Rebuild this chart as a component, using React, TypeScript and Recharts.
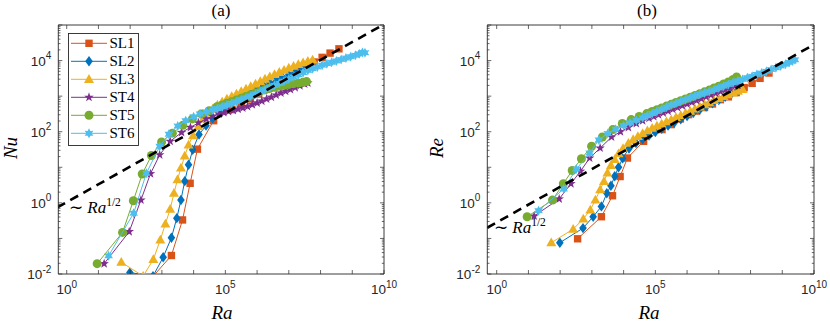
import React from 'react';
import { ScatterChart, Scatter, XAxis, YAxis, ReferenceArea } from 'recharts';

// All values are log10. Ra is shared by both panels.
const sl1Ra = [2.55, 3.30, 3.65, 3.89, 4.12, 4.63, 5.21, 5.50, 5.79, 6.05, 6.30, 6.55, 6.80, 7.05, 7.30, 7.55, 7.80, 8.05, 8.30, 8.58];
const sl1Nu = [-2.24, -1.48, -0.48, 0.55, 1.51, 2.31, 2.62, 2.77, 2.92, 3.06, 3.19, 3.32, 3.45, 3.58, 3.70, 3.82, 3.96, 4.09, 4.21, 4.33];
const sl1Re = [-1.01, -0.39, 0.20, 0.74, 1.26, 1.73, 2.06, 2.20, 2.36, 2.48, 2.58, 2.68, 2.78, 2.90, 2.98, 3.10, 3.24, 3.36, 3.50, 3.65];

const sl2Ra = [1.99, 2.72, 3.04, 3.30, 3.47, 3.60, 3.72, 3.84, 3.97, 4.17, 4.39, 4.60, 4.80, 5.00, 5.20, 5.40, 5.60, 5.80, 6.00, 6.20, 6.40, 6.60, 6.80, 7.00, 7.20, 7.40, 7.60];
const sl2Nu = [-1.96, -2.06, -1.53, -0.98, -0.43, 0.08, 0.61, 1.07, 1.49, 1.92, 2.17, 2.38, 2.54, 2.69, 2.82, 2.93, 3.03, 3.13, 3.22, 3.30, 3.38, 3.46, 3.53, 3.60, 3.67, 3.74, 3.81];
const sl2Re = [-1.12, -0.71, -0.39, -0.10, 0.27, 0.48, 0.75, 1.00, 1.25, 1.53, 1.68, 1.79, 1.89, 1.99, 2.08, 2.17, 2.26, 2.35, 2.44, 2.53, 2.62, 2.71, 2.80, 2.89, 2.98, 3.07, 3.16];

const sl3Ra = [1.72, 2.41, 2.73, 2.95, 3.11, 3.26, 3.38, 3.49, 3.60, 3.72, 3.84, 3.98, 4.15, 4.30, 4.45, 4.60, 4.75, 4.90, 5.05, 5.20, 5.35, 5.50, 5.65, 5.80, 5.95, 6.10, 6.25, 6.40, 6.55, 6.70, 6.85, 7.00, 7.15, 7.30, 7.45, 7.60, 7.75];
const sl3Nu = [-1.67, -2.06, -1.59, -1.04, -0.59, -0.18, 0.27, 0.65, 0.98, 1.32, 1.63, 1.89, 2.15, 2.36, 2.52, 2.64, 2.75, 2.84, 2.92, 2.99, 3.06, 3.13, 3.20, 3.27, 3.34, 3.41, 3.48, 3.55, 3.61, 3.67, 3.73, 3.79, 3.84, 3.89, 3.94, 3.98, 4.02];
const sl3Re = [-1.12, -0.74, -0.45, -0.20, 0.08, 0.37, 0.60, 0.84, 1.05, 1.22, 1.38, 1.53, 1.68, 1.78, 1.87, 1.95, 2.03, 2.10, 2.16, 2.22, 2.28, 2.34, 2.40, 2.46, 2.52, 2.58, 2.64, 2.70, 2.76, 2.82, 2.88, 2.94, 2.99, 3.04, 3.09, 3.14, 3.19];

const st4Ra = [1.18, 1.97, 2.34, 2.64, 2.93, 3.26, 3.62, 3.90, 4.15, 4.40, 4.60, 4.80, 4.95, 5.10, 5.25, 5.40, 5.55, 5.70, 5.85, 6.00, 6.15, 6.30, 6.45, 6.60, 6.75, 6.90, 7.05, 7.20, 7.35, 7.50, 7.60];
const st4Nu = [-1.71, -0.81, 0.08, 0.82, 1.35, 1.73, 1.98, 2.12, 2.25, 2.36, 2.44, 2.50, 2.54, 2.57, 2.60, 2.63, 2.67, 2.71, 2.76, 2.81, 2.86, 2.92, 2.97, 3.03, 3.09, 3.14, 3.19, 3.24, 3.29, 3.34, 3.37];
const st4Re = [-0.37, 0.11, 0.54, 0.89, 1.26, 1.54, 1.85, 2.00, 2.12, 2.23, 2.31, 2.38, 2.43, 2.48, 2.53, 2.58, 2.63, 2.68, 2.73, 2.78, 2.83, 2.88, 2.93, 2.98, 3.03, 3.08, 3.13, 3.18, 3.23, 3.28, 3.31];

const st5Ra = [0.96, 1.76, 2.10, 2.38, 2.67, 2.99, 3.33, 3.66, 3.96, 4.24, 4.49, 4.73, 4.90, 5.05, 5.20, 5.35, 5.50, 5.65, 5.80, 5.95, 6.10, 6.25, 6.40, 6.55, 6.70, 6.85, 7.00, 7.15, 7.30, 7.45, 7.56];
const st5Nu = [-1.71, -0.83, 0.06, 0.81, 1.33, 1.71, 1.96, 2.18, 2.36, 2.50, 2.59, 2.70, 2.75, 2.80, 2.84, 2.89, 2.94, 2.99, 3.04, 3.09, 3.14, 3.18, 3.22, 3.25, 3.28, 3.31, 3.33, 3.35, 3.37, 3.39, 3.41];
const st5Re = [-0.39, 0.08, 0.54, 0.91, 1.24, 1.59, 1.85, 2.06, 2.23, 2.34, 2.43, 2.51, 2.57, 2.62, 2.67, 2.72, 2.77, 2.82, 2.87, 2.92, 2.97, 3.02, 3.07, 3.12, 3.17, 3.23, 3.28, 3.34, 3.40, 3.47, 3.54];

const st6Ra = [1.32, 2.11, 2.51, 2.93, 3.22, 3.50, 3.75, 4.00, 4.20, 4.40, 4.60, 4.75, 4.90, 5.05, 5.20, 5.35, 5.50, 5.65, 5.80, 5.95, 6.10, 6.25, 6.40, 6.55, 6.70, 6.85, 7.00, 7.15, 7.30, 7.45, 7.60, 7.75, 7.90, 8.05, 8.20, 8.35, 8.50, 8.65, 8.80, 8.95, 9.10, 9.22, 9.32, 9.40];
const st6Nu = [-1.49, -0.29, 0.83, 1.59, 1.93, 2.16, 2.31, 2.42, 2.50, 2.56, 2.61, 2.65, 2.70, 2.75, 2.80, 2.85, 2.90, 2.95, 3.00, 3.06, 3.12, 3.18, 3.24, 3.30, 3.36, 3.42, 3.48, 3.54, 3.60, 3.66, 3.72, 3.77, 3.82, 3.87, 3.91, 3.95, 3.99, 4.03, 4.07, 4.11, 4.15, 4.19, 4.23, 4.22];
const st6Re = [-0.22, 0.39, 0.95, 1.40, 1.77, 1.95, 2.07, 2.17, 2.25, 2.32, 2.39, 2.45, 2.51, 2.57, 2.63, 2.69, 2.75, 2.80, 2.85, 2.90, 2.95, 3.00, 3.05, 3.09, 3.13, 3.18, 3.23, 3.28, 3.33, 3.38, 3.43, 3.47, 3.52, 3.56, 3.61, 3.65, 3.70, 3.75, 3.80, 3.85, 3.90, 3.95, 3.99, 4.02];

// ~Ra^(1/2) guide lines (end points)
const fitRa = [-0.3, 10.2];
const fitNu = [-0.13, 5.12];
const fitRe = [-0.70, 4.55];

const xTickExp = [0, 1, 2, 3, 4, 5, 6, 7, 8, 9, 10];
const xLabelExp = [0, 5, 10];
const yDecades = [-2, -1, 0, 1, 2, 3, 4];
const yLabelExp = [-2, 0, 2, 4];

const series = [
  { name: 'SL1', color: '#D95319', kind: 'square', ra: sl1Ra, nu: sl1Nu, re: sl1Re },
  { name: 'SL2', color: '#0072BD', kind: 'diamond', ra: sl2Ra, nu: sl2Nu, re: sl2Re },
  { name: 'SL3', color: '#EDB120', kind: 'triangle', ra: sl3Ra, nu: sl3Nu, re: sl3Re },
  { name: 'ST4', color: '#7E2F8E', kind: 'pentagram', ra: st4Ra, nu: st4Nu, re: st4Re },
  { name: 'ST5', color: '#77AC30', kind: 'circle', ra: st5Ra, nu: st5Nu, re: st5Re },
  { name: 'ST6', color: '#4DBEEE', kind: 'hexagram', ra: st6Ra, nu: st6Nu, re: st6Re },
];

const toPoints = (xs: number[], ys: number[]) => xs.map((v, i) => ({ x: 10 ** v, y: 10 ** ys[i] }));

const yTicks: number[] = [];
yDecades.forEach((d) => {
  for (let k = 1; k <= 9; k++) yTicks.push(k * 10 ** d);
});
yTicks.push(1e5);
const xTicks = xTickExp.map((e) => 10 ** e);

const PLOT_TOP = 25;
const PLOT_BOTTOM = 274;
const AXIS_COLOR = '#262626';
const TICK_FONT = '"Liberation Sans", Arial, sans-serif';
const SERIF = '"Liberation Serif", "Times New Roman", serif';

function starPoints(cx: number, cy: number, n: number, R: number, r: number) {
  const pts: string[] = [];
  for (let i = 0; i < 2 * n; i++) {
    const a = -Math.PI / 2 + (i * Math.PI) / n;
    const rad = i % 2 === 0 ? R : r;
    pts.push(`${cx + rad * Math.cos(a)},${cy + rad * Math.sin(a)}`);
  }
  return pts.join(' ');
}

function Marker({ kind, cx, cy, color }: { kind: string; cx: number; cy: number; color: string }) {
  switch (kind) {
    case 'square':
      return <rect x={cx - 3.7} y={cy - 3.7} width={7.4} height={7.4} fill={color} />;
    case 'diamond':
      return <polygon points={`${cx},${cy - 5.2} ${cx + 3.8},${cy} ${cx},${cy + 5.2} ${cx - 3.8},${cy}`} fill={color} />;
    case 'triangle':
      return <polygon points={`${cx},${cy - 5.2} ${cx + 5},${cy + 3.6} ${cx - 5},${cy + 3.6}`} fill={color} />;
    case 'circle':
      return <circle cx={cx} cy={cy} r={4.5} fill={color} />;
    case 'pentagram':
      return <polygon points={starPoints(cx, cy, 5, 5, 2)} fill={color} />;
    case 'hexagram':
      return <polygon points={starPoints(cx, cy, 6, 5, 2.7)} fill={color} />;
    default:
      return <g />;
  }
}

function XTick(props: any) {
  const { payload } = props;
  const x = payload.coordinate;
  const e = Math.round(Math.log10(payload.value));
  return (
    <g>
      <line x1={x} x2={x} y1={PLOT_BOTTOM} y2={PLOT_BOTTOM - 4} stroke={AXIS_COLOR} strokeWidth={0.7} />
      <line x1={x} x2={x} y1={PLOT_TOP} y2={PLOT_TOP + 4} stroke={AXIS_COLOR} strokeWidth={0.7} />
      {xLabelExp.includes(e) && (
        <text x={x} y={PLOT_BOTTOM + 20} textAnchor="middle" fontFamily={TICK_FONT} fontSize={13.5} fill={AXIS_COLOR}>
          10<tspan dy={-6.5} fontSize={10}>{e}</tspan>
        </text>
      )}
    </g>
  );
}

const makeYTick = (left: number, right: number) => (props: any) => {
  const { payload } = props;
  const y = payload.coordinate;
  const lg = Math.log10(payload.value);
  const e = Math.round(lg);
  const isDecade = Math.abs(lg - e) < 1e-6;
  const len = isDecade ? 4 : 2.2;
  return (
    <g>
      <line x1={left} x2={left + len} y1={y} y2={y} stroke={AXIS_COLOR} strokeWidth={0.7} />
      <line x1={right} x2={right - len} y1={y} y2={y} stroke={AXIS_COLOR} strokeWidth={0.7} />
      {isDecade && yLabelExp.includes(e) && (
        <text x={left - 7} y={y + 5} textAnchor="end" fontFamily={TICK_FONT} fontSize={13.5} fill={AXIS_COLOR}>
          10<tspan dy={-6.5} fontSize={10}>{e}</tspan>
        </text>
      )}
    </g>
  );
};

function Panel({ which, width, marginLeft, marginRight, xMinExp }: { which: 'nu' | 're'; width: number; marginLeft: number; marginRight: number; xMinExp: number }) {
  const xMin = 10 ** xMinExp;
  const plotLeft = marginLeft + 40;
  const plotRight = width - marginRight;
  const fit = toPoints(fitRa, which === 'nu' ? fitNu : fitRe);
  return (
    <ScatterChart width={width} height={323} margin={{ top: PLOT_TOP, right: marginRight, bottom: 9, left: marginLeft }}>
      <XAxis
        dataKey="x"
        type="number"
        scale="log"
        domain={[xMin, 1e10]}
        allowDataOverflow
        ticks={xTicks}
        interval={0}
        height={40}
        axisLine={false}
        tickLine={false}
        tick={<XTick />}
      />
      <YAxis
        dataKey="y"
        type="number"
        scale="log"
        domain={[1e-2, 1e5]}
        allowDataOverflow
        ticks={yTicks}
        interval={0}
        width={40}
        axisLine={false}
        tickLine={false}
        tick={makeYTick(plotLeft, plotRight)}
      />
      <ReferenceArea x1={xMin} x2={1e10} y1={1e-2} y2={1e5} fill="none" stroke={AXIS_COLOR} strokeWidth={0.9} ifOverflow="visible" />
      {series.map((s) => (
        <Scatter
          key={s.name}
          data={toPoints(s.ra, which === 'nu' ? s.nu : s.re)}
          fill={s.color}
          line={{ stroke: s.color, strokeWidth: 1 }}
          lineType="joint"
          shape={(p: any) => <Marker kind={s.kind} cx={p.cx} cy={p.cy} color={s.color} />}
          isAnimationActive={false}
        />
      ))}
      <Scatter
        data={fit}
        fill="#000"
        line={{ stroke: '#000', strokeWidth: 2.6, strokeDasharray: '9 6' }}
        lineType="joint"
        shape={() => <g />}
        isAnimationActive={false}
      />
    </ScatterChart>
  );
}

function Overlay() {
  const rows = series.map((s, i) => ({ ...s, y: 43.3 + i * 18 }));
  return (
    <svg width={830} height={323} style={{ position: 'absolute', left: 0, top: 0, pointerEvents: 'none' }}>
      {/* titles */}
      <text x={221} y={16} textAnchor="middle" fontFamily={SERIF} fontSize={17} fill="#000">(a)</text>
      <text x={647} y={16} textAnchor="middle" fontFamily={SERIF} fontSize={17} fill="#000">(b)</text>
      {/* axis labels */}
      <text x={222} y={319} textAnchor="middle" fontFamily={SERIF} fontStyle="italic" fontSize={19} fill="#000">Ra</text>
      <text x={649} y={319} textAnchor="middle" fontFamily={SERIF} fontStyle="italic" fontSize={19} fill="#000">Ra</text>
      <text transform="translate(17,148) rotate(-90)" textAnchor="middle" fontFamily={SERIF} fontStyle="italic" fontSize={19} fill="#000">Nu</text>
      <text transform="translate(443,148) rotate(-90)" textAnchor="middle" fontFamily={SERIF} fontStyle="italic" fontSize={19} fill="#000">Re</text>
      {/* scaling annotations */}
      <text x={69} y={213} fontFamily={SERIF} fontSize={17} fill="#000">
        ∼ <tspan fontStyle="italic">Ra</tspan><tspan dy={-7} fontSize={11.5}>1/2</tspan>
      </text>
      <text x={494} y={233} fontFamily={SERIF} fontSize={17} fill="#000">
        ∼ <tspan fontStyle="italic">Ra</tspan><tspan dy={-7} fontSize={11.5}>1/2</tspan>
      </text>
      {/* legend */}
      <rect x={68.5} y={33.5} width={70} height={112} fill="#fff" stroke={AXIS_COLOR} strokeWidth={0.9} />
      {rows.map((r) => (
        <g key={r.name}>
          <line x1={71} x2={107} y1={r.y} y2={r.y} stroke={r.color} strokeWidth={1} />
          <Marker kind={r.kind} cx={89} cy={r.y} color={r.color} />
          <text x={109.5} y={r.y + 5} fontFamily={SERIF} fontSize={15} fill="#000">{r.name}</text>
        </g>
      ))}
    </svg>
  );
}

export default function App() {
  return (
    <div style={{ position: 'absolute', left: 0, top: 0, width: 830, height: 323, background: '#fff' }}>
      <div style={{ position: 'absolute', left: 0, top: 0 }}>
        <Panel which="nu" width={420} marginLeft={18.3} marginRight={36} xMinExp={-0.265} />
      </div>
      <div style={{ position: 'absolute', left: 420, top: 0 }}>
        <Panel which="re" width={410} marginLeft={27.3} marginRight={16} xMinExp={-0.296} />
      </div>
      <Overlay />
    </div>
  );
}
